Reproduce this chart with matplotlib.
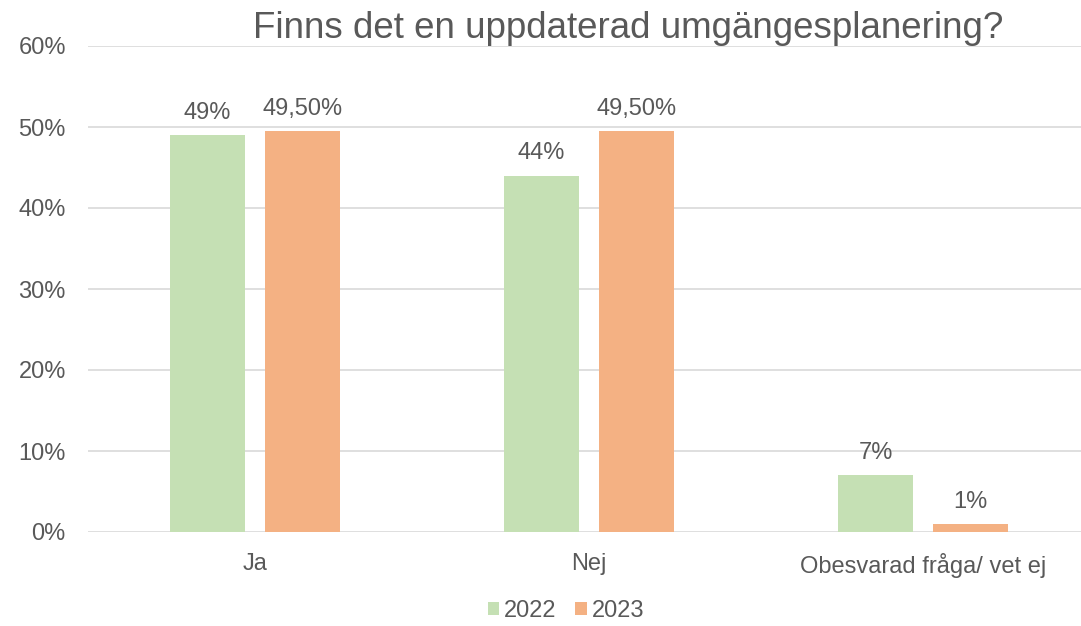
import matplotlib
matplotlib.use("Agg")
import matplotlib.pyplot as plt
import numpy as np

categories = ["Ja", "Nej", "Obesvarad fråga/ vet ej"]
series_names = ["2022", "2023"]
values_2022 = [49, 44, 7]
values_2023 = [49.5, 49.5, 1]
labels_2022 = ["49%", "44%", "7%"]
labels_2023 = ["49,50%", "49,50%", "1%"]
yticks = [0, 10, 20, 30, 40, 50, 60]
ytick_labels = ["0%", "10%", "20%", "30%", "40%", "50%", "60%"]
title = "Finns det en uppdaterad umgängesplanering?"

plt.rcParams['font.family'] = ['Liberation Sans', 'DejaVu Sans']
text_color = "#595959"
grid_color = "#D9D9D9"
c2022 = "#C5E0B4"
c2023 = "#F4B183"
fs = 17

fig = plt.figure(figsize=(10.81, 6.26), dpi=100)
W, H = 1081, 626
left_px, right_px = 88, 1081
ax = fig.add_axes([left_px / W, (H - 532) / H, (right_px - left_px) / W, (532 - 46) / H])

x = np.arange(len(categories))
bw = 75 / 334
off = 47.5 / 334
b1 = ax.bar(x - off, values_2022, bw, color=c2022, label=series_names[0], zorder=3)
b2 = ax.bar(x + off, values_2023, bw, color=c2023, label=series_names[1], zorder=3)

for bars, labs in ((b1, labels_2022), (b2, labels_2023)):
    for rect, lab in zip(bars, labs):
        ax.annotate(lab, (rect.get_x() + rect.get_width() / 2, rect.get_height()),
                    xytext=(0, 8), textcoords="offset points", ha="center", va="bottom",
                    fontsize=fs, color=text_color)

ax.set_xlim(-0.5, -0.5 + (right_px - left_px) / 334)
ax.set_ylim(0, 60)
ax.set_yticks(yticks)
ax.set_yticklabels(ytick_labels, fontsize=fs, color=text_color)
ax.set_xticks(x)
ax.set_xticklabels(categories, fontsize=fs, color=text_color)
ax.tick_params(axis="both", length=0)
ax.tick_params(axis="y", pad=16)
ax.tick_params(axis="x", pad=15)
ax.grid(axis="y", color=grid_color, linewidth=1.2, zorder=0)
for s in ax.spines.values():
    s.set_visible(False)

fig.text(628 / W, 1 - 28 / H, title, ha="center", va="center", fontsize=26.5, color=text_color)

leg = fig.legend(handles=[b1, b2], labels=series_names, loc="center", bbox_to_anchor=(566 / W, 1 - 611 / H),
                 ncol=2, frameon=False, fontsize=fs, handlelength=0.5, handleheight=0.5,
                 handletextpad=0.2, columnspacing=0.8)
for t in leg.get_texts():
    t.set_color(text_color)

fig.savefig("out.png", dpi=100)
